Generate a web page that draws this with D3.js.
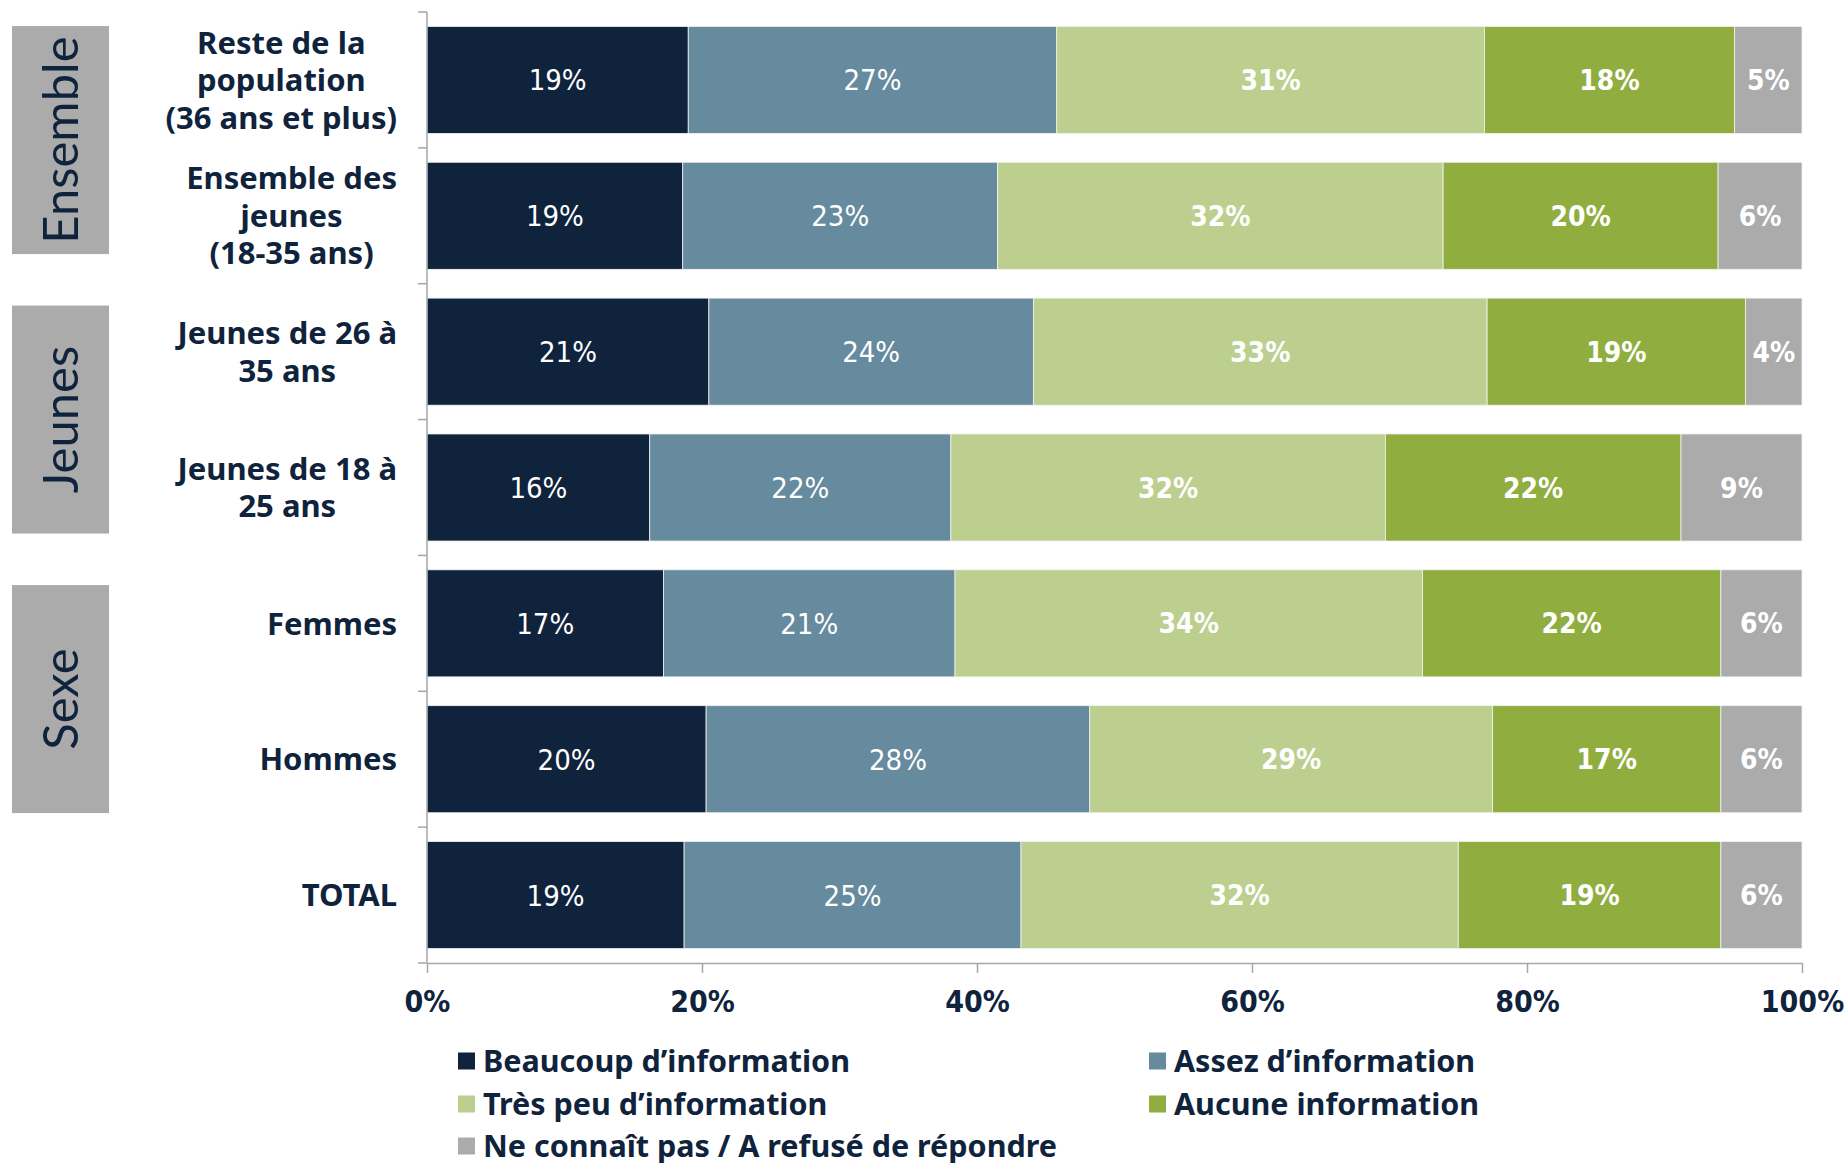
<!DOCTYPE html>
<html lang="fr">
<head>
<meta charset="UTF-8">
<title>Niveau d'information</title>
<script src="https://d3js.org/d3.v7.min.js"></script>
<style>
  body { margin: 0; background: #fff; }
  svg { display: block; }
</style>
</head>
<body>
<div id="chart"></div>
<script>
// categories (top to bottom), each label split into lines
var categories = ["Reste de la population (36 ans et plus)", "Ensemble des jeunes (18-35 ans)",
                  "Jeunes de 26 à 35 ans", "Jeunes de 18 à 25 ans", "Femmes", "Hommes", "TOTAL"];
var categoryLines = [["Reste de la", "population", "(36 ans et plus)"],
                     ["Ensemble des", "jeunes", "(18-35 ans)"],
                     ["Jeunes de 26 à", "35 ans"],
                     ["Jeunes de 18 à", "25 ans"],
                     ["Femmes"], ["Hommes"], ["TOTAL"]];

// series values (%)
var beaucoup = [19.0, 18.6, 20.5, 16.2, 17.2, 20.3, 18.7];
var assez    = [26.8, 22.9, 23.6, 21.9, 21.2, 27.9, 24.5];
var tresPeu  = [31.1, 32.4, 33.0, 31.6, 34.0, 29.3, 31.8];
var aucune   = [18.2, 20.0, 18.8, 21.5, 21.7, 16.6, 19.1];
var nsp      = [ 4.9,  6.1,  4.1,  8.8,  5.9,  5.9,  5.9];

var seriesNames = ["Beaucoup d’information", "Assez d’information", "Très peu d’information",
                   "Aucune information", "Ne connaît pas / A refusé de répondre"];
var seriesColors = ["#0f233c", "#668a9e", "#bccf8f", "#90ae40", "#ababab"];
var labelBold = [false, false, true, true, true];

var groups = [{name: "Ensemble", first: 0, last: 1},
              {name: "Jeunes", first: 2, last: 3},
              {name: "Sexe", first: 4, last: 5}];

var tickValues = [0, 20, 40, 60, 80, 100];

var W = 1845, H = 1163;
var margin = {top: 12, left: 427, right: 43, bottom: 200};
var width = W - margin.left - margin.right,
    height = H - margin.top - margin.bottom;

var navy = "#0f233c", axisGray = "#a6a6a6";
var narrow = "'Liberation Sans Narrow', 'DejaVu Sans Condensed', sans-serif";
var catFont = "'Noto Sans', sans-serif";

var svg = d3.select("#chart").append("svg")
    .attr("width", W).attr("height", H);

var g = svg.append("g")
    .attr("transform", "translate(" + margin.left + "," + margin.top + ")");

var x = d3.scaleLinear().domain([0, 100]).range([0, width]);
var y = d3.scaleBand().domain(categories).range([0, height])
    .paddingInner(0.212).paddingOuter(0.106);

// stack the rows
var table = categories.map(function(c, i) {
  return {cat: c, s0: beaucoup[i], s1: assez[i], s2: tresPeu[i], s3: aucune[i], s4: nsp[i]};
});
var stack = d3.stack().keys(["s0", "s1", "s2", "s3", "s4"]);
var layers = stack(table);

var layer = g.selectAll("g.layer")
  .data(layers)
  .enter().append("g")
    .attr("class", "layer")
    .attr("fill", function(d, i) { return seriesColors[i]; });

layer.selectAll("rect")
  .data(function(d) { return d; })
  .enter().append("rect")
    .attr("x", function(d) { return x(d[0]); })
    .attr("y", function(d) { return y(d.data.cat); })
    .attr("width", function(d) { return x(d[1]) - x(d[0]); })
    .attr("height", y.bandwidth())
    .attr("stroke", "#f2f2f2")
    .attr("stroke-width", 0.8);

// value labels
layer.each(function(L, li) {
  d3.select(this).selectAll("text")
    .data(L)
    .enter().append("text")
      .attr("x", function(d) { return x((d[0] + d[1]) / 2); })
      .attr("y", function(d) { return y(d.data.cat) + y.bandwidth() / 2; })
      .attr("dy", "0.36em")
      .attr("text-anchor", "middle")
      .style("font-family", narrow)
      .style("font-size", labelBold[li] ? "28px" : "29px")
      .style("font-weight", labelBold[li] ? "bold" : "normal")
      .style("fill", "#fff")
      .text(function(d) { return Math.round(d[1] - d[0]) + "%"; });
});

// y axis: line with ticks at band boundaries
var step = y.step(), gap = step * y.paddingInner() / 2;
var bounds = categories.map(function(c) { return y(c) - gap; });
bounds.push(height);
g.append("line")
  .attr("x1", 0).attr("x2", 0)
  .attr("y1", bounds[0]).attr("y2", height)
  .attr("stroke", axisGray).attr("stroke-width", 1.5);
g.selectAll("line.ytick")
  .data(bounds)
  .enter().append("line")
    .attr("class", "ytick")
    .attr("x1", -9).attr("x2", 0)
    .attr("y1", function(d) { return d; })
    .attr("y2", function(d) { return d; })
    .attr("stroke", axisGray).attr("stroke-width", 1.5);

// x axis
var xAxis = g.append("g")
  .attr("transform", "translate(0," + height + ")")
  .call(d3.axisBottom(x).tickValues(tickValues)
        .tickFormat(function(d) { return d + "%"; })
        .tickSize(10).tickSizeOuter(0).tickPadding(18));
xAxis.select(".domain").attr("stroke", axisGray).attr("stroke-width", 1.5);
xAxis.selectAll(".tick line").attr("stroke", axisGray).attr("stroke-width", 1.5);
xAxis.selectAll(".tick text")
  .style("font-family", narrow)
  .style("font-size", "30px")
  .style("font-weight", "bold")
  .style("fill", navy);

// category labels: lines centred together, block right-aligned
var catG = g.append("g");
categoryLines.forEach(function(lines, i) {
  var t = catG.append("text")
    .style("font-family", catFont)
    .style("font-size", "31px")
    .style("font-weight", "bold")
    .style("fill", navy)
    .attr("text-anchor", "middle");
  var lh = 37.5;
  var cy = y(categories[i]) + y.bandwidth() / 2;
  var y0 = cy - (lines.length - 1) * lh / 2;
  var spans = lines.map(function(l, k) {
    return t.append("tspan").attr("y", y0 + k * lh).attr("dy", "0.36em").text(l);
  });
  var maxW = d3.max(spans, function(s) { return s.node().getComputedTextLength(); });
  spans.forEach(function(s) { s.attr("x", -30 - maxW / 2); });
});

// group boxes on the left, spread evenly around the middle group
var boxH = 228, boxW = 97, boxGap = 279.5;
var mid = groups[1];
var midC = (y(categories[mid.first]) + y(categories[mid.last]) + y.bandwidth()) / 2;
groups.forEach(function(gr, i) {
  var c = midC + (i - 1) * boxGap;
  var bx = 12 - margin.left;
  g.append("rect")
    .attr("x", bx).attr("y", c - boxH / 2)
    .attr("width", boxW).attr("height", boxH)
    .attr("fill", "#ababab");
  g.append("text")
    .attr("transform", "translate(" + (bx + boxW / 2) + "," + c + ") rotate(-90)")
    .attr("text-anchor", "middle")
    .attr("dy", "0.36em")
    .style("font-family", "Lato, sans-serif")
    .style("font-size", "49px")
    .style("fill", navy)
    .text(gr.name);
});

// legend
var legendPos = [[458, 1061], [1149, 1061], [458, 1104], [1149, 1104], [458, 1146]];
var legend = svg.selectAll("g.legend")
  .data(seriesNames)
  .enter().append("g")
    .attr("class", "legend")
    .attr("transform", function(d, i) { return "translate(" + legendPos[i][0] + "," + legendPos[i][1] + ")"; });
legend.append("rect")
  .attr("x", 0).attr("y", -8.5)
  .attr("width", 17).attr("height", 17)
  .attr("fill", function(d, i) { return seriesColors[i]; });
legend.append("text")
  .attr("x", 25).attr("dy", "0.36em")
  .style("font-family", catFont)
  .style("font-size", "30.5px")
  .style("font-weight", "bold")
  .style("fill", navy)
  .text(function(d) { return d; });

// page number, cut off at the bottom edge
svg.append("text")
  .attr("x", 1835).attr("y", 1181)
  .style("font-family", catFont)
  .style("font-size", "26px")
  .style("fill", "#7f7f7f")
  .text("2");
</script>
</body>
</html>
